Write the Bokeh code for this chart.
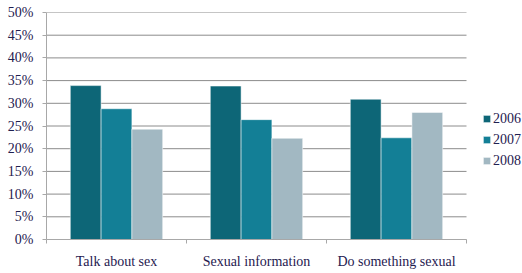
from bokeh.plotting import figure
from bokeh.models import ColumnDataSource, FixedTicker, PrintfTickFormatter, Legend, LegendItem, Range1d
from bokeh.embed import file_html
from bokeh.resources import INLINE

categories = ["Talk about sex", "Sexual information", "Do something sexual"]
years = ["2006", "2007", "2008"]
v2006 = [33.9, 33.8, 30.9]
v2007 = [28.8, 26.4, 22.4]
v2008 = [24.3, 22.3, 28.0]
yticks = [0, 5, 10, 15, 20, 25, 30, 35, 40, 45, 50]
colors = ["#0d6677", "#137f96", "#a2b8c2"]

FONT = "Liberation Serif"
TXT = "#1f2050"

n = len(categories)
# frame spans 476px; categories occupy the first 420px (140px each)
p = figure(width=522, height=273, output_backend="svg", toolbar_location=None,
           x_range=Range1d(0, n * 476 / 420), y_range=Range1d(0, 50))
p.min_border_left = 46
p.min_border_top = 12
p.min_border_bottom = 34
p.min_border_right = 0
p.outline_line_color = None
p.background_fill_color = "white"
p.border_fill_color = "white"

# horizontal grid lines only across the category area
p.segment(x0=[0] * len(yticks), x1=[n] * len(yticks), y0=yticks, y1=yticks,
          line_color="#8c8c8c", line_width=1, level="underlay")

bw = 0.22
offsets = [-bw, 0.0, bw]
series = [v2006, v2007, v2008]
renderers = []
for yr, vals, off, col in zip(years, series, offsets, colors):
    src = ColumnDataSource(dict(x=[i + 0.5 + off for i in range(n)], top=vals))
    r = p.vbar(x="x", top="top", bottom=0, width=bw, source=src, fill_color=col,
               line_color="white", line_alpha=0.5, line_width=1)
    renderers.append(r)

# y axis
p.yaxis.ticker = FixedTicker(ticks=yticks)
p.yaxis.formatter = PrintfTickFormatter(format="%d%%")
p.yaxis.axis_line_color = "#a8a8a8"
p.yaxis.axis_line_width = 1
p.yaxis.major_tick_line_color = "#a8a8a8"
p.yaxis.major_tick_out = 4
p.yaxis.major_tick_in = 0
p.yaxis.minor_tick_line_color = None
p.yaxis.major_label_text_font = FONT
p.yaxis.major_label_text_font_size = "14px"
p.yaxis.major_label_text_color = TXT
p.yaxis.major_label_standoff = 9

# x axis
p.xaxis.ticker = FixedTicker(ticks=[i + 0.5 for i in range(n)],
                             minor_ticks=list(range(n + 1)))
p.xaxis.major_label_overrides = {i + 0.5: c for i, c in enumerate(categories)}
p.xaxis.bounds = (0, n)
p.xaxis.axis_line_color = "#a8a8a8"
p.xaxis.axis_line_width = 1
p.xaxis.major_tick_line_color = None
p.xaxis.minor_tick_line_color = "#a8a8a8"
p.xaxis.minor_tick_out = 4
p.xaxis.minor_tick_in = 0
p.xaxis.major_label_text_font = FONT
p.xaxis.major_label_text_font_size = "14px"
p.xaxis.major_label_text_color = TXT
p.xaxis.major_label_standoff = 8

p.xgrid.grid_line_color = None
p.ygrid.grid_line_color = None

legend = Legend(items=[LegendItem(label=y, renderers=[r]) for y, r in zip(years, renderers)],
                location=(436, 68))
legend.glyph_width = 9
legend.glyph_height = 9
legend.label_standoff = 2
legend.label_height = 21
legend.spacing = 0
legend.padding = 0
legend.margin = 0
legend.border_line_color = None
legend.background_fill_alpha = 0
legend.label_text_font = FONT
legend.label_text_font_size = "14px"
legend.label_text_color = TXT
p.add_layout(legend, "center")

open("out.html", "w").write(file_html(p, INLINE))
